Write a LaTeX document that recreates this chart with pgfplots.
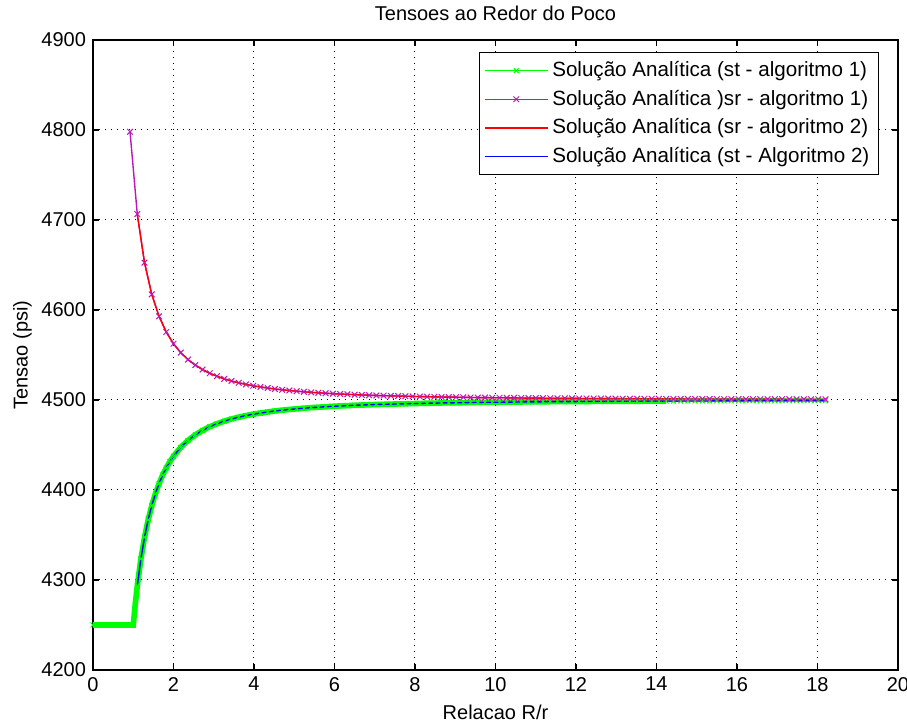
\documentclass[border=0pt]{standalone}
\usepackage{pgfplots}
\pgfplotsset{compat=1.18}
\usepackage{pgfplotstable}
\usepackage{fontspec}
\setmainfont{Liberation Sans}

\definecolor{mgreen}{rgb}{0,1,0}
\definecolor{mmag}{rgb}{0.72,0.1,0.72}
\definecolor{mred}{rgb}{1,0,0}
\definecolor{mblue}{rgb}{0,0,1}

% sigma_r
\pgfplotstableread{
x sr
0.92 4798.0
1.10 4706.6
1.28 4652.6
1.46 4617.3
1.64 4593.0
1.82 4575.5
2.00 4562.5
2.18 4552.6
2.36 4544.9
2.54 4538.8
2.72 4533.8
2.90 4529.7
3.08 4526.4
3.26 4523.5
3.44 4521.1
3.62 4519.1
3.80 4517.3
3.98 4515.8
4.16 4514.5
4.34 4513.3
4.52 4512.2
4.70 4511.3
4.88 4510.5
5.06 4509.8
5.24 4509.1
5.42 4508.5
5.60 4508.0
5.78 4507.5
5.96 4507.0
6.14 4506.6
6.32 4506.3
6.50 4505.9
6.68 4505.6
6.86 4505.3
7.04 4505.0
7.22 4504.8
7.40 4504.6
7.58 4504.4
7.76 4504.2
7.94 4504.0
8.12 4503.8
8.30 4503.6
8.48 4503.5
8.66 4503.3
8.84 4503.2
9.02 4503.1
9.20 4503.0
9.38 4502.8
9.56 4502.7
9.74 4502.6
9.92 4502.5
10.10 4502.5
10.28 4502.4
10.46 4502.3
10.64 4502.2
10.82 4502.1
11.00 4502.1
11.18 4502.0
11.36 4501.9
11.54 4501.9
11.72 4501.8
11.90 4501.8
12.08 4501.7
12.26 4501.7
12.44 4501.6
12.62 4501.6
12.80 4501.5
12.98 4501.5
13.16 4501.4
13.34 4501.4
13.52 4501.4
13.70 4501.3
13.88 4501.3
14.06 4501.3
14.24 4501.2
14.42 4501.2
14.60 4501.2
14.78 4501.1
14.96 4501.1
15.14 4501.1
15.32 4501.1
15.50 4501.0
15.68 4501.0
15.86 4501.0
16.04 4501.0
16.22 4500.9
16.40 4500.9
16.58 4500.9
16.76 4500.9
16.94 4500.9
17.12 4500.9
17.30 4500.8
17.48 4500.8
17.66 4500.8
17.84 4500.8
18.02 4500.8
18.20 4500.8
}\srtable

% sigma_t
\pgfplotstableread{
x st
0.00 4250.0
0.10 4250.0
0.20 4250.0
0.30 4250.0
0.40 4250.0
0.50 4250.0
0.60 4250.0
0.70 4250.0
0.80 4250.0
0.90 4250.0
1.00 4250.0
1.05 4273.2
1.10 4293.4
1.19 4323.5
1.28 4347.4
1.37 4366.8
1.46 4382.7
1.55 4395.9
1.64 4407.0
1.73 4416.5
1.82 4424.5
1.91 4431.5
2.00 4437.5
2.18 4447.4
2.36 4455.1
2.54 4461.2
2.72 4466.2
2.90 4470.3
3.08 4473.6
3.26 4476.5
3.44 4478.9
3.62 4480.9
3.80 4482.7
3.98 4484.2
4.16 4485.5
4.34 4486.7
4.52 4487.8
4.70 4488.7
4.88 4489.5
5.06 4490.2
5.24 4490.9
5.42 4491.5
5.60 4492.0
5.78 4492.5
5.96 4493.0
6.14 4493.4
6.32 4493.7
6.50 4494.1
6.68 4494.4
6.86 4494.7
7.04 4495.0
7.22 4495.2
7.40 4495.4
7.58 4495.6
7.76 4495.8
7.94 4496.0
8.12 4496.2
8.30 4496.4
8.48 4496.5
8.66 4496.7
8.84 4496.8
9.02 4496.9
9.20 4497.0
9.38 4497.2
9.56 4497.3
9.74 4497.4
9.92 4497.5
10.10 4497.5
10.28 4497.6
10.46 4497.7
10.64 4497.8
10.82 4497.9
11.00 4497.9
11.18 4498.0
11.36 4498.1
11.54 4498.1
11.72 4498.2
11.90 4498.2
12.08 4498.3
12.26 4498.3
12.44 4498.4
12.62 4498.4
12.80 4498.5
12.98 4498.5
13.16 4498.6
13.34 4498.6
13.52 4498.6
13.70 4498.7
13.88 4498.7
14.06 4498.7
14.24 4498.8
14.42 4498.8
14.60 4498.8
14.78 4498.9
14.96 4498.9
15.14 4498.9
15.32 4498.9
15.50 4499.0
15.68 4499.0
15.86 4499.0
16.04 4499.0
16.22 4499.1
16.40 4499.1
16.58 4499.1
16.76 4499.1
16.94 4499.1
17.12 4499.1
17.30 4499.2
17.48 4499.2
17.66 4499.2
17.84 4499.2
18.02 4499.2
18.20 4499.2
}\sttable

\begin{document}
\begin{tikzpicture}
\useasboundingbox (-46.5pt,-28pt) rectangle (407pt,335pt);
\begin{axis}[
    at={(0,0)}, anchor=south west,
    scale only axis,
    width=402.5pt, height=315pt,
    xmin=0, xmax=20, ymin=4200, ymax=4900,
    xtick={0,2,...,20},
    ytick={4200,4300,...,4900},
    /pgf/number format/assume math mode=true,
    yticklabel style={/pgf/number format/1000 sep={}},
    tick align=inside,
    major tick length=3pt,
    xtick pos=both, ytick pos=both,
    grid=major,
    grid style={black, line width=0.5pt, dash pattern=on 0.6pt off 2.4pt},
    axis line style={black, line width=0.6pt},
    tick style={black, line width=0.6pt},
    font=\fontsize{10}{12}\selectfont,
    ticklabel style={font=\fontsize{10}{12}\selectfont},
    title={Tensoes ao Redor do Poco},
    title style={yshift=0pt},
    xlabel={Relacao R/r},
    ylabel={Tensao (psi)},
    xlabel style={yshift=0pt},
    ylabel style={yshift=-2pt},
    legend cell align=left,
    legend style={at={(1,1)}, xshift=-9.5pt, yshift=-6pt, anchor=north east,
        draw=black, fill=white, line width=0.6pt,
        font=\fontsize{10.3}{12}\selectfont,
        row sep=1.2pt, inner sep=2.5pt},
    legend image code/.code={%
        \draw[mark repeat=2,mark phase=2,#1] plot coordinates {(0cm,0cm) (0.55cm,0cm) (1.1cm,0cm)};},
]
% green band (dense markers)
\addplot[mgreen, line width=2.8pt, forget plot, restrict x to domain=0:14.3] table[x=x,y=st]{\sttable};
\addplot[mgreen, line width=0.6pt, mark=x, mark size=1.7pt, mark options={line width=0.5pt}] table[x=x,y=st]{\sttable};
\addplot[mmag, line width=0.7pt, mark=x, mark size=2pt, mark options={line width=0.5pt}] table[x=x,y=sr]{\srtable};
\addplot[mred, line width=0.7pt, restrict x to domain=1.1:20] table[x=x,y=sr]{\srtable};
\addplot[mblue, line width=0.7pt, restrict x to domain=1.1:20] table[x=x,y=st]{\sttable};
\legend{Solução Analítica (st - algoritmo 1),
        Solução Analítica )sr - algoritmo 1),
        Solução Analítica (sr - algoritmo 2),
        Solução Analítica (st - Algoritmo 2)}
\end{axis}
\end{tikzpicture}
\end{document}
